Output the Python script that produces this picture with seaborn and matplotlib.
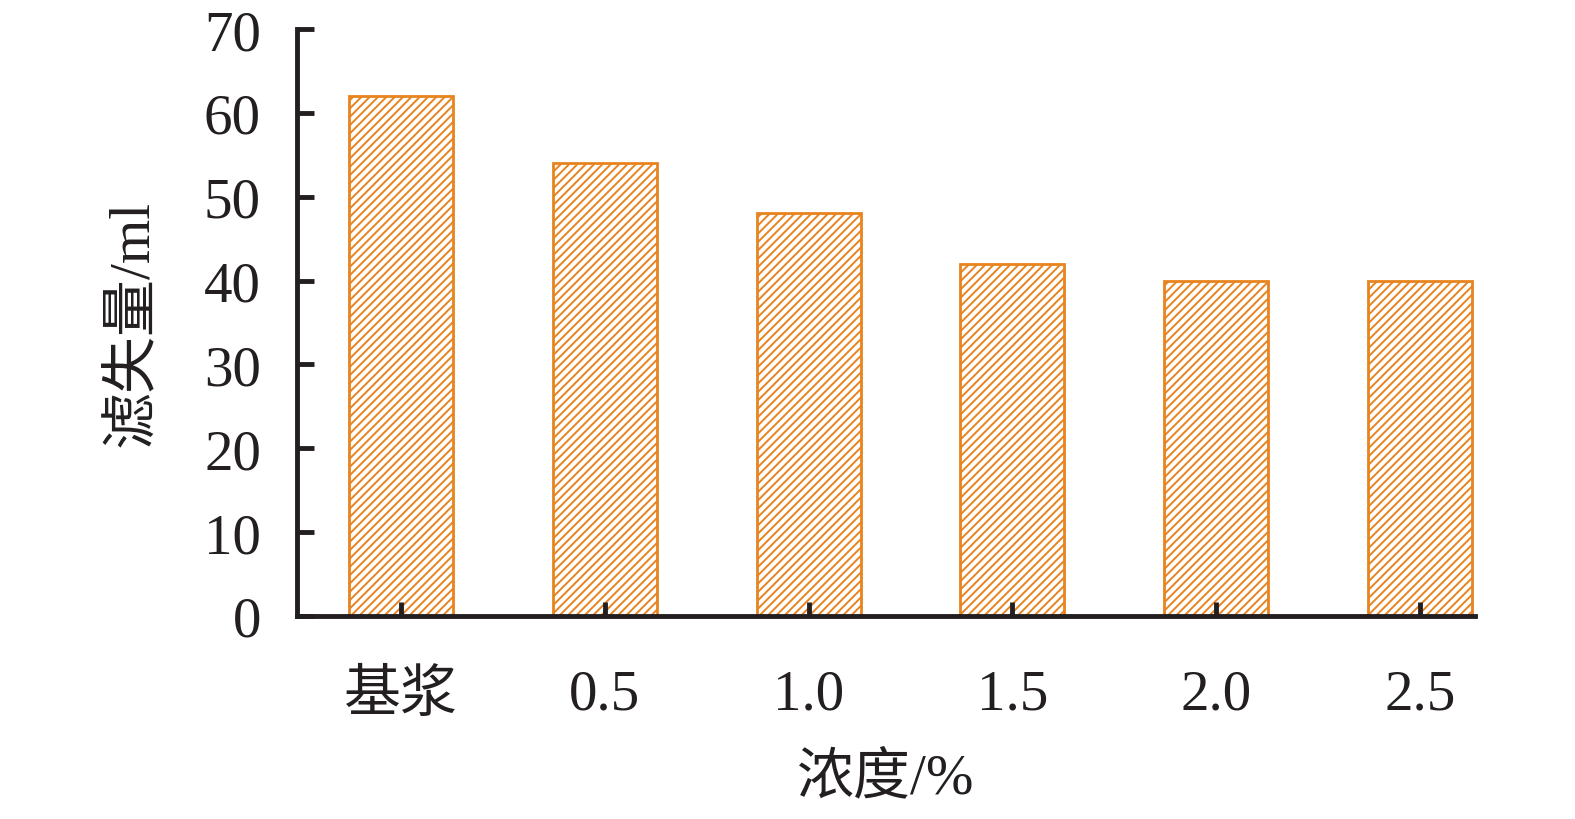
import matplotlib
matplotlib.use('Agg')
import matplotlib.pyplot as plt
import seaborn as sns
import pandas as pd

# data
categories = ['基浆', '0.5', '1.0', '1.5', '2.0', '2.5']
filtrate_loss = [62, 54, 48, 42, 40, 40]

sns.set_theme(style='white')
plt.rcParams['font.family'] = ['Liberation Serif', 'Noto Sans CJK SC']
plt.rcParams['hatch.linewidth'] = 1.4

df = pd.DataFrame({'conc': categories, 'loss': filtrate_loss})

fig = plt.figure(figsize=(15.75, 8.2), dpi=100)
ax = fig.add_axes([0.1886, 0.2476, 0.7479, 0.7158])

sns.barplot(data=df, x='conc', y='loss', ax=ax, width=0.51,
            color='white', edgecolor='#E8841F', linewidth=2.0)
for p in ax.patches:
    p.set_hatch('////')
    p.set_facecolor('white')
    p.set_edgecolor('#E8841F')

ax.set_xlim(-0.51, 5.27)
ax.set_ylim(0, 70)
ax.set_yticks(range(0, 71, 10))
ax.set_axisbelow(False)

for side in ['top', 'right']:
    ax.spines[side].set_visible(False)
for side in ['left', 'bottom']:
    ax.spines[side].set_color('#231F20')
    ax.spines[side].set_linewidth(3.5)

ax.tick_params(axis='both', direction='in', length=12, width=3.5, color='#231F20',
               labelsize=41, labelcolor='#231F20')
ax.tick_params(axis='x', length=10, pad=38)
ax.tick_params(axis='y', pad=26)
ax.tick_params(left=True, bottom=True)

ax.set_xlabel('浓度/%', fontsize=41, color='#231F20', labelpad=22)
ax.set_ylabel('滤失量/ml', fontsize=41, color='#231F20', labelpad=32)

fig.savefig('out.png', dpi=100)
